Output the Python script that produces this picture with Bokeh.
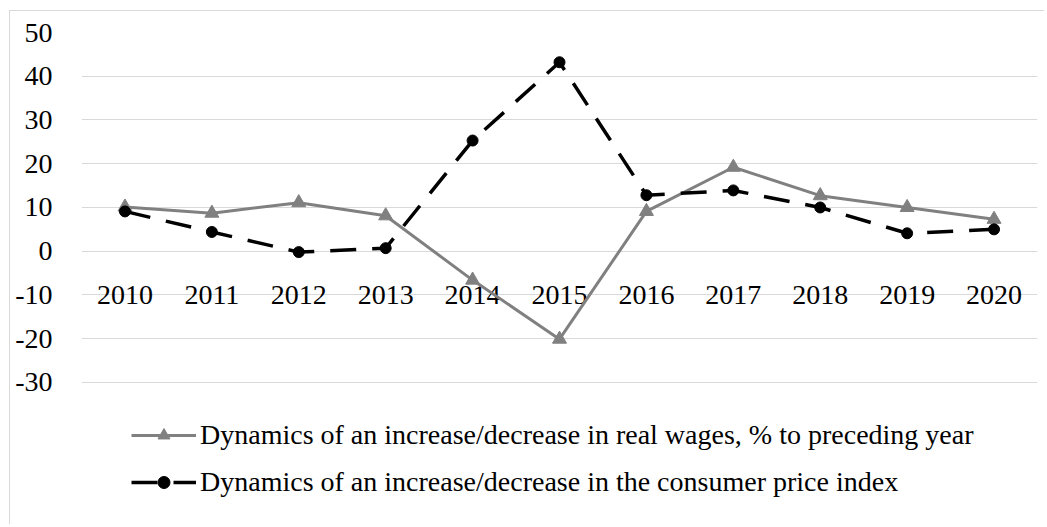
from bokeh.plotting import figure
from bokeh.models import FactorRange, Range1d, FixedTicker, Legend, LegendItem
from bokeh.core.properties import value
from bokeh.embed import file_html
from bokeh.resources import INLINE

years = ["2010", "2011", "2012", "2013", "2014", "2015", "2016", "2017", "2018", "2019", "2020"]
real_wages = [10.1, 8.7, 11.1, 8.1, -6.6, -20.1, 9.1, 19.2, 12.7, 10.0, 7.3]
cpi = [9.1, 4.4, -0.2, 0.7, 25.3, 43.2, 12.8, 13.9, 10.0, 4.1, 5.0]
y_ticks = [-30, -20, -10, 0, 10, 20, 30, 40, 50]
year_label_level = -10
legend_labels = [
    "Dynamics of an increase/decrease in real wages, % to preceding year",
    "Dynamics of an increase/decrease in the consumer price index",
]

FONT = "Liberation Serif"
FS = "28px"

# y range extends below -30 so the legend can sit inside the plot frame
p = figure(width=1035, height=514, x_range=FactorRange(*years), y_range=Range1d(-62.7, 50),
           output_backend="svg", toolbar_location=None,
           min_border_left=71, min_border_right=8, min_border_top=21, min_border_bottom=0)
p.styles = {"margin-left": "9px", "margin-top": "10px",
            "border-top": "1px solid #d9d9d9", "border-left": "1px solid #d9d9d9"}
p.outline_line_color = None
p.xaxis.visible = False
p.xgrid.visible = False
p.ygrid.ticker = FixedTicker(ticks=y_ticks)
p.ygrid.grid_line_color = "#d9d9d9"
p.ygrid.grid_line_width = 1
p.yaxis.ticker = FixedTicker(ticks=y_ticks)
p.yaxis.major_label_overrides = {t: str(t) for t in y_ticks}
p.yaxis.axis_line_color = None
p.yaxis.major_tick_line_color = None
p.yaxis.minor_tick_line_color = None
p.yaxis.major_label_standoff = 23
p.yaxis.major_label_text_font = FONT
p.yaxis.major_label_text_font_size = FS
p.yaxis.major_label_text_color = "black"

p.text(x=years, y=[year_label_level] * len(years), text=years, text_align="center",
       text_baseline="middle", text_font=value(FONT), text_font_size=value(FS), text_color="black")

w_line = p.line(years, real_wages, line_color="#808080", line_width=3)
w_mark = p.scatter(years, real_wages, marker="triangle", size=14, fill_color="#808080", line_color="#808080")
c_line = p.line(years, cpi, line_color="black", line_width=3.5, line_dash="26 16")
c_mark = p.scatter(years, cpi, marker="circle", size=11, fill_color="black", line_color="black")

legend = Legend(items=[LegendItem(label=legend_labels[0], renderers=[w_line, w_mark]),
                       LegendItem(label=legend_labels[1], renderers=[c_line, c_mark])],
                location=(50, 27), orientation="vertical")
legend.label_text_font = FONT
legend.label_text_font_size = FS
legend.label_text_color = "black"
legend.border_line_color = None
legend.background_fill_alpha = 0
legend.glyph_width = 65
legend.glyph_height = 30
legend.label_height = 30
legend.spacing = 15
legend.label_standoff = 4
legend.margin = 0
legend.padding = 0
p.add_layout(legend, "center")

open("out.html", "w").write(file_html(p, INLINE))
